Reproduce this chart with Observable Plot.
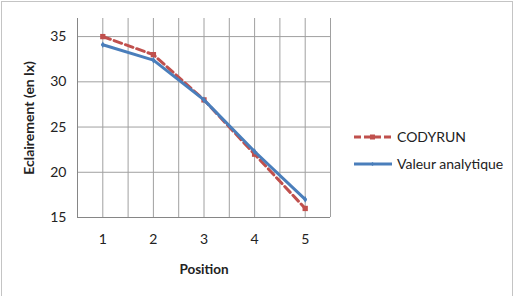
<!DOCTYPE html>
<html><head><meta charset="utf-8">
<script src="https://cdn.jsdelivr.net/npm/d3@7"></script>
<script src="https://cdn.jsdelivr.net/npm/@observablehq/plot@0.6"></script>
<style>
body{margin:0;background:#fff;font-family:Lato,"Open Sans",sans-serif;}
#wrap{position:relative;width:521px;height:296px;overflow:hidden;}
#frame{position:absolute;left:1px;top:1px;width:510px;height:300px;border:1px solid #c4c4c4;pointer-events:none;}
#legend{position:absolute;left:353px;top:123px;font-size:14px;color:#222;}
.item{display:flex;align-items:center;height:27px;}
.item svg{margin-right:4px;}
</style></head>
<body><div id="wrap"><div id="frame"></div><div id="chart"></div>
<div id="legend"></div></div>
<script>
const positions = [1, 2, 3, 4, 5];
const codyrun = [35, 33, 28, 22, 16];
const analytique = [34.1, 32.4, 28, 22.3, 17];
const seriesNames = ["CODYRUN", "Valeur analytique"];
const yTicks = [15, 20, 25, 30, 35];
const xGrid = [0.5, 1, 1.5, 2, 2.5, 3, 3.5, 4, 4.5, 5, 5.5];

const rows = [];
positions.forEach((p, i) => {
  rows.push({x: p, y: codyrun[i], s: seriesNames[0]});
  rows.push({x: p, y: analytique[i], s: seriesNames[1]});
});
const red = "#C0504D", blue = "#4A7EBB";

const chart = Plot.plot({
  width: 521, height: 296,
  marginLeft: 77, marginRight: 191, marginTop: 18, marginBottom: 79,
  style: {fontFamily: "Lato, 'Open Sans', sans-serif", fontSize: "14px", color: "#222", overflow: "visible"},
  x: {domain: [0.5, 5.5]},
  y: {domain: [15, 37]},
  marks: [
    Plot.ruleX(xGrid, {stroke: "#a0a0a0", strokeWidth: 1, y1: 15, y2: 37}),
    Plot.ruleY(yTicks, {stroke: "#a0a0a0", strokeWidth: 1}),
    Plot.ruleX([0.5], {stroke: "#868686", y1: 15, y2: 37}),
    Plot.ruleY([15], {stroke: "#868686"}),
    Plot.axisX({ticks: positions, tickFormat: "d", tickSize: 0, tickPadding: 17, fontSize: 14, label: "Position", labelAnchor: "center", labelArrow: "none", labelOffset: 56}),
    Plot.axisY({ticks: yTicks, tickFormat: "d", tickSize: 0, tickPadding: 11, fontSize: 14, label: "Eclairement (en lx)", labelAnchor: "center", labelArrow: "none", labelOffset: 53}),
    Plot.line(rows.filter(d => d.s === seriesNames[0]), {x: "x", y: "y", stroke: red, strokeWidth: 3, strokeDasharray: "8,4"}),
    Plot.dot(rows.filter(d => d.s === seriesNames[0]), {x: "x", y: "y", symbol: "square", r: 3, fill: red, stroke: "none"}),
    Plot.line(rows.filter(d => d.s === seriesNames[1]), {x: "x", y: "y", stroke: blue, strokeWidth: 3}),
    Plot.dot(rows.filter(d => d.s === seriesNames[1]), {x: "x", y: "y", symbol: "diamond", r: 2, fill: blue, stroke: "none"})
  ]
});
chart.querySelectorAll("[aria-label='x-axis label'] text").forEach(t => {
  t.setAttribute("font-weight", "bold");
  t.setAttribute("font-size", "13.5");
});
chart.querySelectorAll("[aria-label='y-axis label'] text").forEach(t => {
  t.setAttribute("font-weight", "bold");
  t.setAttribute("font-size", "14");
});
document.getElementById("chart").appendChild(chart);

const legend = document.getElementById("legend");
[[seriesNames[0], red, true], [seriesNames[1], blue, false]].forEach(([name, col, dashed]) => {
  const div = document.createElement("div");
  div.className = "item";
  const marker = dashed
    ? `<rect x="17" y="3.5" width="5" height="5" fill="${col}"/>`
    : `<path d="M19.5,4 L21.5,6 L19.5,8 L17.5,6Z" fill="${col}"/>`;
  div.innerHTML = `<svg width="40" height="12"><line x1="1" y1="6" x2="39" y2="6" stroke="${col}" stroke-width="3" ${dashed ? 'stroke-dasharray="7,3"' : ''}/>${marker}</svg><span>${name}</span>`;
  legend.appendChild(div);
});
</script></body></html>
